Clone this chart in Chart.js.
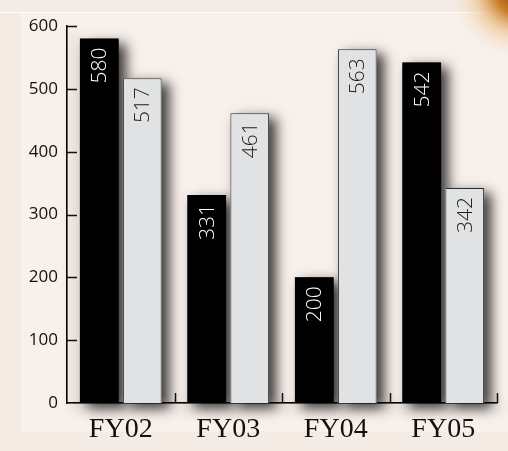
<!DOCTYPE html>
<html>
<head>
<meta charset="utf-8">
<script src="https://cdn.jsdelivr.net/npm/chart.js@4"></script>
<style>
  html, body { margin: 0; padding: 0; background: #f6eee8; }
  #wrap { width: 508px; height: 451px; position: relative; }
</style>
</head>
<body>
<div id="wrap"><canvas id="c" width="508" height="451"></canvas></div>
<script>
const categories = ['FY02', 'FY03', 'FY04', 'FY05'];
const seriesA = [580, 331, 200, 542];
const seriesB = [517, 461, 563, 342];
const yTicks = [0, 100, 200, 300, 400, 500, 600];

const bgPlugin = {
  id: 'bg',
  beforeDraw(chart) {
    const ctx = chart.ctx;
    const w = chart.width, h = chart.height;
    ctx.save();
    ctx.fillStyle = '#f4ebe5';
    ctx.fillRect(0, 0, w, h);
    ctx.fillStyle = '#f8f0eb';
    ctx.fillRect(21, 12, w - 21, h - 31);
    ctx.strokeStyle = 'rgba(255,255,255,0.9)';
    ctx.lineWidth = 1;
    ctx.beginPath(); ctx.moveTo(0, 12.5); ctx.lineTo(w, 12.5); ctx.stroke();
    const g = ctx.createRadialGradient(w + 10, -8, 2, w + 10, -8, 70);
    g.addColorStop(0, 'rgba(140,70,5,1)');
    g.addColorStop(0.3, 'rgba(200,120,30,0.95)');
    g.addColorStop(0.6, 'rgba(235,185,120,0.5)');
    g.addColorStop(1, 'rgba(248,240,235,0)');
    ctx.fillStyle = g;
    ctx.fillRect(w - 85, 0, 85, 75);
    ctx.restore();
  }
};

const shadowPlugin = {
  id: 'shadow',
  beforeDatasetsDraw(chart) {
    const ctx = chart.ctx;
    const area = chart.chartArea;
    ctx.save();
    ctx.shadowColor = 'rgba(0,0,0,0.78)';
    ctx.shadowBlur = 12;
    ctx.shadowOffsetX = 7;
    ctx.shadowOffsetY = 5;
    ctx.fillStyle = 'rgba(0,0,0,0.5)';
    ctx.fillRect(area.left - 1, area.top, 1.5, area.bottom - area.top);
    ctx.fillRect(area.left, area.bottom - 1, area.right - area.left, 1.5);
    chart.data.datasets.forEach((ds, di) => {
      const meta = chart.getDatasetMeta(di);
      meta.data.forEach(bar => {
        const p = bar.getProps(['x', 'y', 'base', 'width'], true);
        ctx.fillStyle = di === 0 ? '#000' : '#e1e2e4';
        ctx.fillRect(p.x - p.width / 2, p.y, p.width, p.base - p.y);
      });
    });
    ctx.restore();
  }
};

const decoPlugin = {
  id: 'deco',
  afterDatasetsDraw(chart) {
    const ctx = chart.ctx;
    const xs = chart.scales.x, ys = chart.scales.y;
    const area = chart.chartArea;
    ctx.save();
    ctx.strokeStyle = '#111';
    ctx.lineWidth = 1.5;
    ctx.beginPath();
    yTicks.forEach(v => {
      if (v === 0) return;
      const py = Math.round(ys.getPixelForValue(v)) + 0.5;
      ctx.moveTo(area.left, py);
      ctx.lineTo(area.left + 10, py);
    });
    for (let i = 0; i < categories.length; i++) {
      const px = i < categories.length - 1
        ? (xs.getPixelForValue(i) + xs.getPixelForValue(i + 1)) / 2
        : area.right;
      ctx.moveTo(Math.round(px) + 0.5, area.bottom);
      ctx.lineTo(Math.round(px) + 0.5, area.bottom - 10);
    }
    ctx.stroke();

    chart.data.datasets.forEach((ds, di) => {
      const meta = chart.getDatasetMeta(di);
      meta.data.forEach((bar, i) => {
        ctx.save();
        ctx.translate(bar.x + 1, bar.y + 9);
        ctx.rotate(-Math.PI / 2);
        ctx.textAlign = 'right';
        ctx.textBaseline = 'middle';
        ctx.font = '300 21px "Open Sans", "Noto Sans", sans-serif';
        ctx.fillStyle = di === 0 ? '#ffffff' : '#1a1a1a';
        ctx.fillText(String(ds.data[i]), 0, 0);
        ctx.restore();
      });
    });
    ctx.restore();
  }
};

new Chart(document.getElementById('c'), {
  type: 'bar',
  data: {
    labels: categories,
    datasets: [
      { data: seriesA, backgroundColor: '#000000', borderColor: '#000000', borderWidth: 1, clip: false },
      { data: seriesB, backgroundColor: '#e1e2e4', borderColor: '#2a2a2a', borderWidth: 1, clip: false }
    ]
  },
  options: {
    responsive: false,
    animation: false,
    devicePixelRatio: 1,
    layout: { padding: { left: 0, right: 11, top: 26, bottom: 0 } },
    plugins: { legend: { display: false }, tooltip: { enabled: false } },
    datasets: { bar: { categoryPercentage: 0.8, barPercentage: 0.9 } },
    scales: {
      x: {
        grid: { display: false, drawTicks: false },
        border: { display: true, color: '#111', width: 1.5 },
        ticks: { color: '#111', padding: 10, font: { family: '"Liberation Serif", "Times New Roman", serif', size: 28 } },
        afterFit(scale) { scale.height = 48; }
      },
      y: {
        min: 0, max: 600,
        afterBuildTicks(scale) { scale.ticks = yTicks.map(v => ({ value: v })); },
        grid: { display: false, drawTicks: false },
        border: { display: true, color: '#111', width: 1.5 },
        ticks: { color: '#111', padding: 9, font: { family: '"Open Sans", "Noto Sans", sans-serif', size: 17 } },
        afterFit(scale) { scale.width = 67; }
      }
    }
  },
  plugins: [bgPlugin, shadowPlugin, decoPlugin]
});
</script>
</body>
</html>
